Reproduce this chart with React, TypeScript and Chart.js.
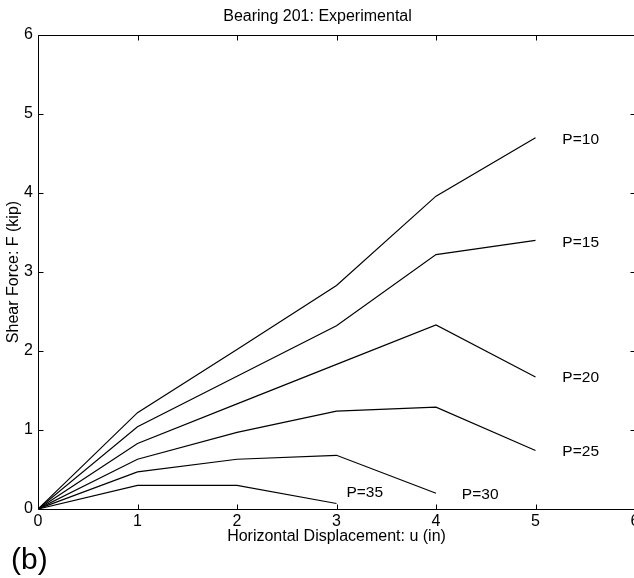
import React, { useEffect, useRef } from "react";
import { Chart, registerables } from "chart.js";

Chart.register(...registerables);

// ---- data ----
const seriesNames = ["P=10", "P=15", "P=20", "P=25", "P=30", "P=35"];
const displacement = [0, 1, 2, 3, 4, 5];
const forceP10 = [0, 1.22, 2.02, 2.83, 3.96, 4.7];
const forceP15 = [0, 1.04, 1.68, 2.32, 3.22, 3.4];
const forceP20 = [0, 0.83, 1.33, 1.83, 2.33, 1.67];
const forceP25 = [0, 0.63, 0.97, 1.24, 1.29, 0.74];
const forceP30 = [0, 0.47, 0.63, 0.68, 0.2];
const forceP35 = [0, 0.3, 0.3, 0.07];
const seriesValues = [forceP10, forceP15, forceP20, forceP25, forceP30, forceP35];
// label anchors (data units)
const labelX = [5.27, 5.27, 5.27, 5.27, 4.26, 3.1];
const labelY = [4.68, 3.37, 1.66, 0.72, 0.18, 0.2];
const axisMin = 0;
const axisMax = 6;

const FONT = "'Liberation Sans', Arial, Helvetica, sans-serif";

const framePlugin = {
  id: "matlabFrame",
  afterDraw(chart: any) {
    const { ctx, chartArea: a, scales } = chart;
    const xs = scales.x;
    const ys = scales.y;
    const L = 5;
    ctx.save();
    ctx.strokeStyle = "#000";
    ctx.lineWidth = 1;
    const left = Math.round(a.left) + 0.5;
    const right = Math.round(a.right) + 0.5;
    const top = Math.round(a.top) + 0.5;
    const bottom = Math.round(a.bottom) + 0.5;
    ctx.beginPath();
    ctx.moveTo(left, top);
    ctx.lineTo(right, top);
    ctx.lineTo(right, bottom);
    ctx.lineTo(left, bottom);
    ctx.closePath();
    ctx.stroke();
    ctx.beginPath();
    for (const t of xs.ticks) {
      const px = Math.round(xs.getPixelForValue(t.value)) + 0.5;
      ctx.moveTo(px, bottom);
      ctx.lineTo(px, bottom - L);
      ctx.moveTo(px, top);
      ctx.lineTo(px, top + L);
    }
    for (const t of ys.ticks) {
      const py = Math.round(ys.getPixelForValue(t.value)) + 0.5;
      ctx.moveTo(left, py);
      ctx.lineTo(left + L, py);
      ctx.moveTo(right, py);
      ctx.lineTo(right - L, py);
    }
    ctx.stroke();

    ctx.fillStyle = "#000";
    ctx.font = "15.5px " + FONT;
    ctx.textAlign = "left";
    ctx.textBaseline = "middle";
    seriesNames.forEach((n, i) => {
      ctx.fillText(n, xs.getPixelForValue(labelX[i]), ys.getPixelForValue(labelY[i]));
    });

    ctx.font = "30px " + FONT;
    ctx.textBaseline = "middle";
    ctx.fillText("(b)", 11, 561);
    ctx.restore();
  },
};

export default function App() {
  const ref = useRef<HTMLCanvasElement | null>(null);

  useEffect(() => {
    if (!ref.current) return;
    const datasets = seriesNames.map((name, i) => ({
      label: name,
      data: seriesValues[i].map((v, j) => ({ x: displacement[j], y: v })),
      borderColor: "#000",
      backgroundColor: "#000",
      borderWidth: 1.2,
      pointRadius: 0,
      tension: 0,
      fill: false,
    }));
    const chart = new Chart(ref.current, {
      type: "line",
      data: { datasets },
      plugins: [framePlugin],
      options: {
        animation: false,
        responsive: false,
        maintainAspectRatio: false,
        layout: { padding: { top: 0, left: 0, right: 25, bottom: 0 } },
        plugins: {
          legend: { display: false },
          tooltip: { enabled: false },
          title: {
            display: true,
            text: "Bearing 201: Experimental",
            color: "#000",
            font: { family: FONT, size: 16, weight: "normal", lineHeight: "19px" },
            padding: { top: 7.5, bottom: 8.5 },
          },
        },
        scales: {
          x: {
            type: "linear",
            position: "bottom",
            min: axisMin,
            max: axisMax,
            grid: { display: false, drawTicks: false, tickLength: 0 },
            border: { display: false },
            ticks: {
              stepSize: 1,
              color: "#000",
              padding: 3,
              font: { family: FONT, size: 16 },
              maxRotation: 0,
            },
            title: {
              display: true,
              text: "Horizontal Displacement: u (in)",
              color: "#000",
              font: { family: FONT, size: 16, lineHeight: "19px" },
              padding: { top: 0, bottom: 31.5 },
            },
            afterFit: (s: any) => {
              s.height = 69;
            },
          },
          y: {
            type: "linear",
            position: "left",
            min: axisMin,
            max: axisMax,
            grid: { display: false, drawTicks: false, tickLength: 0 },
            border: { display: false },
            ticks: {
              stepSize: 1,
              color: "#000",
              padding: 5,
              font: { family: FONT, size: 16 },
            },
            title: {
              display: true,
              text: "Shear Force: F (kip)",
              color: "#000",
              font: { family: FONT, size: 16, lineHeight: "19px" },
              padding: { top: 4.5, bottom: 0 },
            },
            afterFit: (s: any) => {
              s.width = 38;
            },
          },
        },
      },
    } as any);
    return () => chart.destroy();
  }, []);

  return (
    <div
      style={{
        position: "absolute",
        left: 0,
        top: 0,
        width: 634,
        height: 578,
        overflow: "hidden",
        background: "#fff",
      }}
    >
      <canvas ref={ref} width={660} height={578} style={{ display: "block" }} />
    </div>
  );
}
